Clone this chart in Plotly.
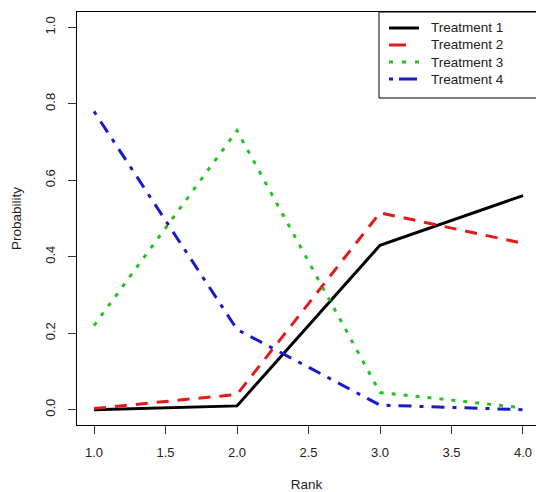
import plotly.graph_objects as go

# Rank probabilities for each treatment
ranks = [1, 2, 3, 4]
treatment_names = ["Treatment 1", "Treatment 2", "Treatment 3", "Treatment 4"]
prob_t1 = [0.0, 0.01, 0.43, 0.56]
prob_t2 = [0.003, 0.04, 0.515, 0.435]
prob_t3 = [0.22, 0.73, 0.045, 0.005]
prob_t4 = [0.78, 0.21, 0.012, 0.0]
y_ticks = [0.0, 0.2, 0.4, 0.6, 0.8, 1.0]
x_ticks = [1.0, 1.5, 2.0, 2.5, 3.0, 3.5, 4.0]

series = [prob_t1, prob_t2, prob_t3, prob_t4]
colors = ["#000000", "#e31a1c", "#22c322", "#1a1acd"]
dashes = ["solid", "12px,9px", "4px,8px", "4px,8px,13px,8px"]
legend_dashes = ["solid", "17px,20px", "4px,9px", "4px,6px,18px,8px"]

FONT = "Liberation Sans, Arial, sans-serif"
W, H = 536, 492
L, T, B = 77, 12, 67

fig = go.Figure()
for name, vals, c, d in zip(treatment_names, series, colors, dashes):
    fig.add_trace(go.Scatter(
        x=ranks, y=vals, mode="lines", name=name,
        line=dict(color=c, width=3, dash=d),
    ))

plot_w = W - L
plot_h = H - T - B

def px_x(p):
    return (p - L) / plot_w

def px_y(p):
    return (H - B - p) / plot_h

# legend frame running off the right edge
fig.add_shape(type="rect", xref="paper", yref="paper",
              x0=px_x(379), x1=1.05, y0=px_y(98), y1=1.0,
              line=dict(color="black", width=1), fillcolor="white", layer="below")

# legend entries: key line + label
row0, row_gap = 28, 17
for i, (name, c, d) in enumerate(zip(treatment_names, colors, legend_dashes)):
    yy = px_y(row0 + i * row_gap)
    fig.add_shape(type="line", xref="paper", yref="paper",
                  x0=px_x(389), x1=px_x(419), y0=yy, y1=yy,
                  line=dict(color=c, width=3, dash=d))
    fig.add_annotation(xref="paper", yref="paper", x=px_x(429), y=yy,
                       text=name, showarrow=False, xanchor="left", yanchor="middle",
                       font=dict(size=13.5, family=FONT, color="#222222"))

fig.update_layout(
    width=W, height=H,
    margin=dict(l=L, r=0, t=T, b=B, pad=0),
    plot_bgcolor="white", paper_bgcolor="white",
    font=dict(family=FONT, color="#222222", size=13),
    showlegend=False,
    xaxis=dict(range=[0.881, 4.091], tickvals=x_ticks, tickformat=".1f",
               showgrid=False, zeroline=False, showline=True, linecolor="black",
               linewidth=1, mirror=True, ticks="outside", ticklen=8, tickcolor="#333",
               tickfont=dict(size=13), ticklabelstandoff=7,
               title=dict(text="Rank", font=dict(size=13.5), standoff=20)),
    yaxis=dict(range=[-0.04, 1.04], tickvals=y_ticks, tickformat=".1f",
               showgrid=False, zeroline=False, showline=True, linecolor="black",
               linewidth=1, mirror=False, ticks="outside", ticklen=8, tickcolor="#333",
               tickangle=-90, tickfont=dict(size=13), ticklabelstandoff=8,
               title=dict(text="Probability", font=dict(size=13.5), standoff=18)),
)

fig.write_html("out.html")
